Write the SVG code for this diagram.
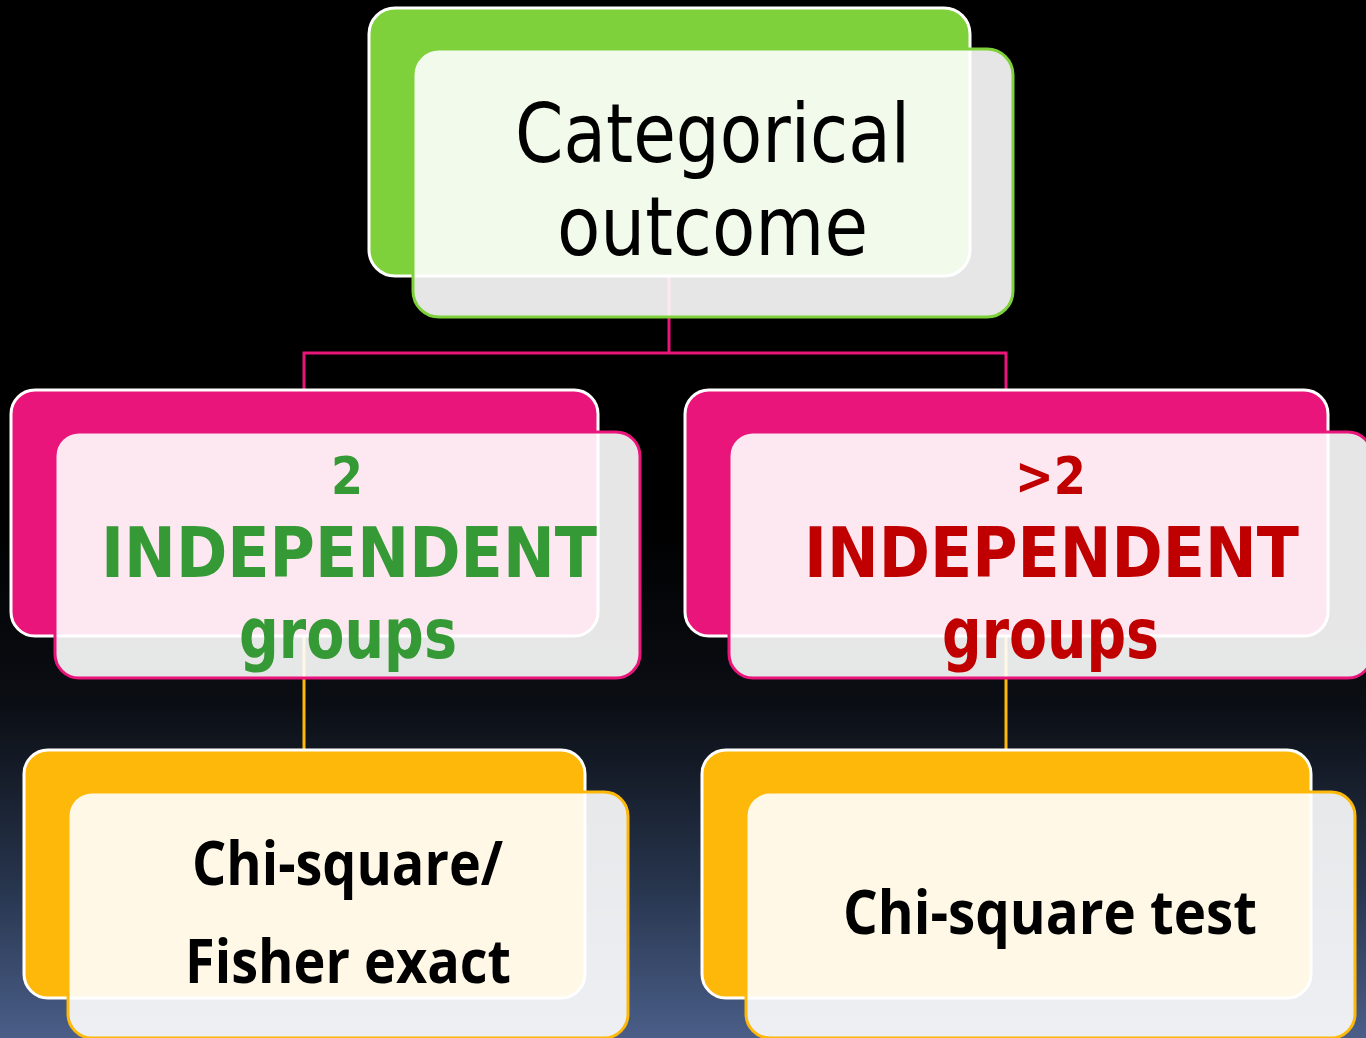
<svg xmlns="http://www.w3.org/2000/svg" width="1366" height="1038" viewBox="0 0 1366 1038">
  <defs>
    <linearGradient id="bg" x1="0" y1="0" x2="0" y2="1">
      <stop offset="0" stop-color="#000000"/>
      <stop offset="0.5" stop-color="#000000"/>
      <stop offset="0.68" stop-color="#0b0e14"/>
      <stop offset="0.85" stop-color="#26344c"/>
      <stop offset="1" stop-color="#4a5e88"/>
    </linearGradient>
    <style>
      .back { stroke: #ffffff; stroke-width: 3; }
      .front { fill: #ffffff; fill-opacity: 0.9; stroke-width: 3; }
      .green { fill: #7fd13b; }
      .pink { fill: #ea157a; }
      .orange { fill: #feb80a; }
      .fg-green { stroke: #7fd13b; }
      .fg-pink { stroke: #ea157a; }
      .fg-orange { stroke: #feb80a; }
      .conn { fill: none; stroke-width: 3; }
      .t-top { font-family: "DejaVu Sans", "Noto Sans", sans-serif; font-size: 82px; fill: #000000; }
      .t-mid { font-family: "DejaVu Sans", "Noto Sans", sans-serif; font-weight: bold; font-size: 69px; }
      .t-num { font-family: "DejaVu Sans", "Noto Sans", sans-serif; font-weight: bold; font-size: 51px; }
      .t-bot { font-family: "Open Sans", "Liberation Sans", sans-serif; font-weight: bold; font-size: 61px; fill: #000000; }
      .c-green { fill: #359a35; }
      .c-red { fill: #c00000; }
    </style>
  </defs>

  <rect x="0" y="0" width="1366" height="1038" fill="url(#bg)"/>

  <!-- connectors -->
  <g id="connectors">
    <path class="conn" stroke="#ea157a" d="M669 276V353M304 390V353H1006V390"/>
    <path class="conn" stroke="#feb80a" d="M304 636V750M1006 636V750"/>
  </g>

  <!-- root -->
  <g id="node-root">
    <rect class="back green" x="369" y="8" width="601" height="268" rx="26"/>
    <rect class="front fg-green" x="413" y="49" width="600" height="268" rx="26"/>
    <text class="t-top" x="515" y="162" textLength="395" lengthAdjust="spacingAndGlyphs">Categorical</text>
    <text class="t-top" x="557" y="255" textLength="311" lengthAdjust="spacingAndGlyphs">outcome</text>
  </g>

  <!-- two groups -->
  <g id="node-two-groups">
    <rect class="back pink" x="11" y="390" width="587" height="246" rx="24"/>
    <rect class="front fg-pink" x="55" y="432" width="585" height="246" rx="24"/>
    <text class="t-num c-green" x="331" y="494" textLength="32" lengthAdjust="spacingAndGlyphs">2</text>
    <text class="t-mid c-green" x="101" y="577" textLength="496" lengthAdjust="spacingAndGlyphs">INDEPENDENT</text>
    <text class="t-mid c-green" x="239" y="658" textLength="218" lengthAdjust="spacingAndGlyphs">groups</text>
  </g>

  <!-- more than two groups -->
  <g id="node-many-groups">
    <rect class="back pink" x="685" y="390" width="643" height="246" rx="24"/>
    <rect class="front fg-pink" x="729" y="432" width="643" height="246" rx="24"/>
    <text class="t-num c-red" x="1015" y="494" textLength="71" lengthAdjust="spacingAndGlyphs">&gt;2</text>
    <text class="t-mid c-red" x="804" y="577" textLength="495" lengthAdjust="spacingAndGlyphs">INDEPENDENT</text>
    <text class="t-mid c-red" x="942" y="658" textLength="217" lengthAdjust="spacingAndGlyphs">groups</text>
  </g>

  <!-- chi-square / fisher -->
  <g id="node-chi-fisher">
    <rect class="back orange" x="24" y="750" width="561" height="248" rx="24"/>
    <rect class="front fg-orange" x="68" y="792" width="560" height="246" rx="24"/>
    <text class="t-bot" x="192" y="885" textLength="311" lengthAdjust="spacingAndGlyphs">Chi-square/</text>
    <text class="t-bot" x="185" y="983" textLength="326" lengthAdjust="spacingAndGlyphs">Fisher exact</text>
  </g>

  <!-- chi-square test -->
  <g id="node-chi-test">
    <rect class="back orange" x="702" y="750" width="609" height="248" rx="24"/>
    <rect class="front fg-orange" x="746" y="792" width="609" height="246" rx="24"/>
    <text class="t-bot" x="843" y="934" textLength="414" lengthAdjust="spacingAndGlyphs">Chi-square test</text>
  </g>
</svg>
